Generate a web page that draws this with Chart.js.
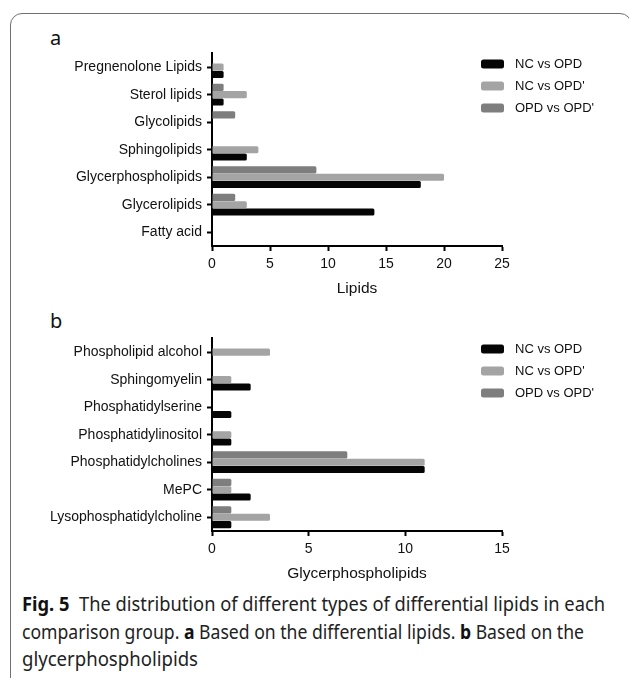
<!DOCTYPE html>
<html><head><meta charset="utf-8">
<script src="https://cdn.jsdelivr.net/npm/chart.js@4.4.1/dist/chart.umd.min.js"></script>
<style>
html,body{margin:0;padding:0;background:#fff}
body{width:629px;height:678px;overflow:hidden;position:relative;font-family:"Liberation Sans",Arial,sans-serif}
#frame{position:absolute;left:10px;top:13px;width:622px;height:720px;border:1.3px solid #707070;border-radius:12px;box-sizing:border-box}
canvas{position:absolute;left:0}
.lab{position:absolute;font-family:"Noto Sans",sans-serif;font-size:20px;color:#111;line-height:20px}
.cap{position:absolute;left:22px;font-family:"Noto Sans",sans-serif;font-size:20px;color:#222;white-space:nowrap;transform-origin:0 0;line-height:24px}
.cap b{color:#111}
</style></head><body>
<div id="frame"></div>
<div class="lab" style="left:50px;top:28px">a</div>
<div class="lab" style="left:50px;top:311px">b</div>
<canvas id="ca" width="629" height="260" style="top:40px"></canvas>
<canvas id="cb" width="629" height="260" style="top:325px"></canvas>
<div class="cap" id="l1" style="top:592px" data-w="583"><b>Fig. 5</b>&nbsp; The distribution of different types of differential lipids in each</div>
<div class="cap" id="l2" style="top:620px" data-w="562">comparison group. <b>a</b> Based on the differential lipids. <b>b</b> Based on the</div>
<div class="cap" id="l3" style="top:647px" data-w="176">glycerphospholipids</div>
<script>
// ---- data ----
const seriesNames = ["OPD vs OPD'", "NC vs OPD'", "NC vs OPD"];
const seriesColors = ["#7e7e7e", "#a4a4a4", "#050505"];

const catsA = ["Pregnenolone Lipids", "Sterol lipids", "Glycolipids", "Sphingolipids", "Glycerphospholipids", "Glycerolipids", "Fatty acid"];
const a_OPDvsOPDp = [0, 1, 2, 0, 9, 2, 0];
const a_NCvsOPDp  = [1, 3, 0, 4, 20, 3, 0];
const a_NCvsOPD   = [1, 1, 0, 3, 18, 14, 0];
const ticksA = [0, 5, 10, 15, 20, 25];

const catsB = ["Phospholipid alcohol", "Sphingomyelin", "Phosphatidylserine", "Phosphatidylinositol", "Phosphatidylcholines", "MePC", "Lysophosphatidylcholine"];
const b_OPDvsOPDp = [0, 0, 0, 0, 7, 1, 1];
const b_NCvsOPDp  = [3, 1, 0, 1, 11, 1, 3];
const b_NCvsOPD   = [0, 2, 1, 1, 11, 2, 1];
const ticksB = [0, 5, 10, 15];

const legendOrder = [2, 1, 0];

const legendPlugin = {
  id: 'customLegend',
  afterDraw(chart, args, opts) {
    const ctx = chart.ctx;
    ctx.save();
    legendOrder.forEach((di, k) => {
      const ds = chart.data.datasets[di];
      const y = opts.y + k * opts.gap;
      ctx.fillStyle = ds.backgroundColor;
      ctx.beginPath();
      ctx.roundRect(opts.x, y - 4.5, 23, 9, 2.5);
      ctx.fill();
      ctx.fillStyle = '#111';
      ctx.font = '13px "Liberation Sans", Arial, sans-serif';
      ctx.textBaseline = 'middle';
      ctx.fillText(ds.label, opts.x + 34, y + 0.5);
    });
    ctx.restore();
  }
};

function makeChart(id, cats, vals, ticks, title, legY) {
  return new Chart(document.getElementById(id), {
    type: 'bar',
    data: {
      labels: cats,
      datasets: vals.map((v, i) => ({
        label: seriesNames[i], data: v, backgroundColor: seriesColors[i],
        borderWidth: 0, borderRadius: 1.5, borderSkipped: 'start',
        categoryPercentage: 0.8, barPercentage: 0.97
      }))
    },
    plugins: [legendPlugin],
    options: {
      indexAxis: 'y', responsive: false, animation: false, devicePixelRatio: 1,
      layout: { padding: { top: 12, left: 0, right: 127, bottom: 0 } },
      plugins: { legend: { display: false }, tooltip: { enabled: false },
        customLegend: { x: 481, y: legY, gap: 22 } },
      scales: {
        x: {
          min: ticks[0], max: ticks[ticks.length - 1],
          afterBuildTicks: s => { s.ticks = ticks.map(v => ({ value: v })); },
          afterFit: s => { s.height = 54; },
          border: { display: true, color: '#000', width: 2 },
          grid: { drawOnChartArea: false, drawTicks: true, tickLength: 5, tickWidth: 2, tickColor: '#000', offset: false },
          ticks: { color: '#111', font: { family: '"Liberation Sans", Arial, sans-serif', size: 14 }, padding: 5, maxRotation: 0 },
          title: { display: true, text: title, color: '#111', font: { family: '"Liberation Sans", Arial, sans-serif', size: 15.5 }, padding: { top: 2, bottom: 2 } }
        },
        y: {
          afterFit: s => { s.width = 212; },
          border: { display: true, color: '#000', width: 2 },
          grid: { drawOnChartArea: false, drawTicks: true, tickLength: 5, tickWidth: 2, tickColor: '#000', offset: false },
          ticks: { color: '#111', font: { family: '"Liberation Sans", Arial, sans-serif', size: 14 }, padding: 5, autoSkip: false }
        }
      }
    }
  });
}

makeChart('ca', catsA, [a_OPDvsOPDp, a_NCvsOPDp, a_NCvsOPD], ticksA, 'Lipids', 24);
makeChart('cb', catsB, [b_OPDvsOPDp, b_NCvsOPDp, b_NCvsOPD], ticksB, 'Glycerphospholipids', 24);

document.querySelectorAll('.cap').forEach(el => {
  const w = el.getBoundingClientRect().width;
  const t = +el.dataset.w;
  el.style.transform = 'scaleX(' + (t / w) + ')';
});
</script>
</body></html>
